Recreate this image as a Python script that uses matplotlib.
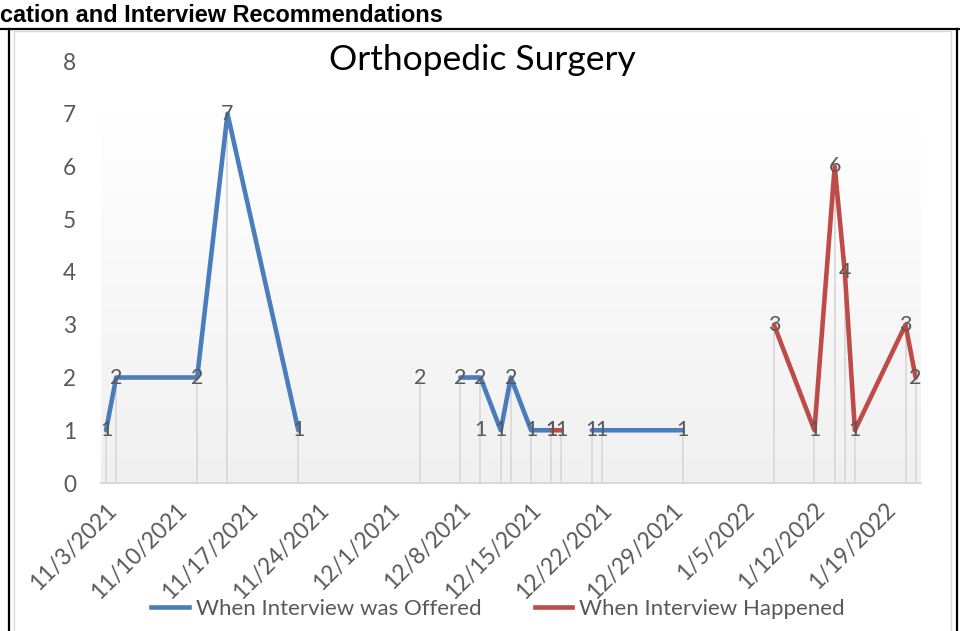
import numpy as np
import pandas as pd
import matplotlib
matplotlib.use("Agg")
import matplotlib.pyplot as plt
import matplotlib.dates as mdates
import matplotlib.transforms as mtransforms
from matplotlib.colors import LinearSegmentedColormap
from matplotlib.lines import Line2D

# data (blank cells = None -> gaps in the lines)
dates = ["2021-11-03", "2021-11-04", "2021-11-12", "2021-11-15", "2021-11-22",
         "2021-12-04", "2021-12-08", "2021-12-10", "2021-12-12", "2021-12-13",
         "2021-12-15", "2021-12-17", "2021-12-18", "2021-12-21", "2021-12-22",
         "2021-12-30", "2022-01-08", "2022-01-12", "2022-01-14", "2022-01-15",
         "2022-01-16", "2022-01-21", "2022-01-22"]
offered = [1, 2, 2, 7, 1, None, 2, 2, 1, 2, 1, 1, None, 1, 1, 1,
           None, None, None, None, None, None, None]
happened = [None, None, None, None, None, 2, None, 1, None, None, None, 1, 1,
            None, None, None, 3, 1, 6, 4, 1, 3, 2]
series_names = ["When Interview was Offered", "When Interview Happened"]
series_colors = ["#4a7ebb", "#be4b48"]
tick_labels = ["11/3/2021", "11/10/2021", "11/17/2021", "11/24/2021", "12/1/2021",
               "12/8/2021", "12/15/2021", "12/22/2021", "12/29/2021", "1/5/2022",
               "1/12/2022", "1/19/2022"]
title = "Orthopedic Surgery"
header = "cation and Interview Recommendations"

plt.rcParams['font.family'] = ['Lato', 'DejaVu Sans']
grey = "#595959"

x = mdates.date2num(pd.to_datetime(dates))
off = np.array(offered, dtype=float)
hap = np.array(happened, dtype=float)
ticks = mdates.date2num(pd.to_datetime(tick_labels, format="%m/%d/%Y"))

W, H = 960, 631
fig = plt.figure(figsize=(W / 100, H / 100), dpi=100)


def fx(px):
    return px / W


def fy(py):
    return 1 - py / H


# frame lines around the chart (from the surrounding document)
fig.add_artist(Line2D([0, 1], [fy(28.5), fy(28.5)], color="black", lw=1.6))
fig.add_artist(Line2D([fx(9), fx(9)], [fy(28.5), 0], color="black", lw=1.6))
fig.add_artist(Line2D([fx(957), fx(957)], [fy(28.5), 0], color="black", lw=1.6))
fig.add_artist(Line2D([fx(14), fx(14), fx(951), fx(951)], [0, fy(31), fy(31), 0],
                      color="#d9d9d9", lw=1))
fig.text(fx(0), fy(15), header, fontsize=16.9, fontweight="bold",
         family="Liberation Sans", ha="left", va="center")

ax = fig.add_axes([fx(101), fy(483), fx(920.7) - fx(101), fy(61) - fy(483)])
xmin, xmax = x[0] - 0.5, x[0] + 80.5

# plot area gradient
cmap = LinearSegmentedColormap.from_list("g", [(0, "white"), (0.12, "white"), (1, "#f0f0f0")])
ax.imshow(np.linspace(0, 1, 256).reshape(-1, 1), cmap=cmap, extent=[xmin, xmax, 0, 8],
          aspect="auto", zorder=0)

# drop lines
top = np.fmax(off, hap)
ax.vlines(x, 0, top, color="#d9d9d9", lw=1.3, zorder=1)

for vals, c in zip([off, hap], series_colors):
    ax.plot(x, vals, color=c, lw=3.3, solid_capstyle="round", solid_joinstyle="round", zorder=3)
    for xi, v in zip(x, vals):
        if not np.isnan(v):
            ax.text(xi, v, f"{int(v)}", ha="center", va="center", fontsize=15.5,
                    color=grey, zorder=5)

ax.set_xlim(xmin, xmax)
ax.set_ylim(0, 8)
ax.set_yticks(range(9))
ax.set_xticks(ticks)
ax.set_xticklabels(tick_labels, rotation=45, ha="right", va="center",
                   rotation_mode="anchor")
ax.tick_params(axis="both", length=0, labelsize=16.3, labelcolor=grey)
ax.tick_params(axis="y", pad=18)
ax.tick_params(axis="x", pad=17)
shift = mtransforms.ScaledTranslation(7 / 100, 0, fig.dpi_scale_trans)
for lab in ax.get_xticklabels():
    lab.set_transform(lab.get_transform() + shift)
for s in ["top", "right", "left"]:
    ax.spines[s].set_visible(False)
ax.spines["bottom"].set_color("#d9d9d9")
ax.spines["bottom"].set_linewidth(1.5)

fig.text(fx(482), fy(60), title, ha="center", va="center", fontsize=25.5, color="black")

handles = [Line2D([], [], color=c, lw=3.3) for c in series_colors]
fig.legend(handles, series_names, loc="center", bbox_to_anchor=(fx(498), fy(609)),
           ncol=2, frameon=False, handlelength=1.7, handletextpad=0.3,
           columnspacing=2.4, fontsize=16, labelcolor=grey)

fig.savefig("out.png", dpi=100, facecolor="white")
